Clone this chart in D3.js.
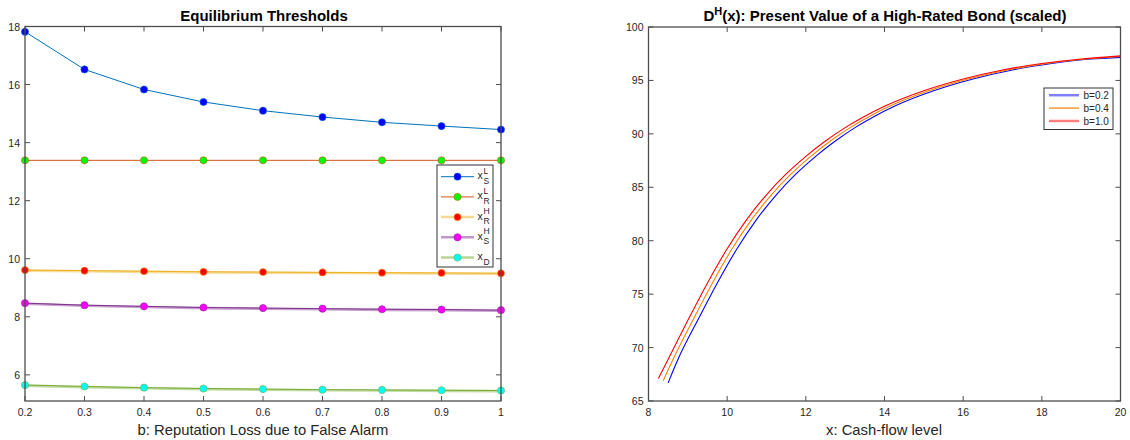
<!DOCTYPE html>
<html><head><meta charset="utf-8">
<script src="https://cdn.jsdelivr.net/npm/d3@7"></script>
<style>
html,body{margin:0;padding:0;background:#fff;}
svg{display:block;font-family:"Liberation Sans",Arial,Helvetica,sans-serif;}
</style></head>
<body><svg id="c" width="1130" height="440"></svg>
<script>
// ---------- Left chart data ----------
const bValues = [0.2, 0.3, 0.4, 0.5, 0.6, 0.7, 0.8, 0.9, 1.0];
const xSL = [17.82, 16.52, 15.83, 15.40, 15.10, 14.88, 14.70, 14.57, 14.45];
const xRL = [13.39, 13.39, 13.39, 13.39, 13.39, 13.39, 13.39, 13.39, 13.39];
const xRH = [9.61, 9.59, 9.57, 9.55, 9.54, 9.53, 9.52, 9.51, 9.50];
const xSH = [8.47, 8.40, 8.36, 8.32, 8.30, 8.28, 8.26, 8.25, 8.23];
const xD  = [5.65, 5.60, 5.56, 5.53, 5.51, 5.49, 5.48, 5.47, 5.46];
const leftXTicks = [0.2, 0.3, 0.4, 0.5, 0.6, 0.7, 0.8, 0.9, 1];
const leftYTicks = [6, 8, 10, 12, 14, 16, 18];

// ---------- Right chart data ----------
const cashRed  = [8.25, 8.5, 9, 9.5, 10, 10.5, 11, 11.5, 12, 12.5, 13, 13.5, 14, 15, 16, 17, 18, 19, 20];
const dRed     = [67.1, 68.9, 72.55, 76.05, 79.25, 82.0, 84.3, 86.25, 87.9, 89.33, 90.58, 91.65, 92.58, 94.03, 95.13, 95.98, 96.58, 97.0, 97.3];
const cashOrg  = [8.375, 8.625, 9.125, 9.625, 10.125, 10.625, 11.125, 11.625, 12.125, 12.625, 13.125, 13.625, 14.125, 15.125, 16.125, 17.125, 18.125, 19.125, 20];
const dOrg     = [66.9, 68.9, 72.55, 76.05, 79.25, 82.0, 84.3, 86.25, 87.9, 89.33, 90.58, 91.65, 92.58, 94.03, 95.13, 95.98, 96.58, 97.0, 97.24];
const cashBlue = [8.5, 8.75, 9.25, 9.75, 10.25, 10.75, 11.25, 11.75, 12.25, 12.75, 13.25, 13.75, 14.25, 15.25, 16.25, 17.25, 18.25, 19.25, 20];
const dBlue    = [66.7, 68.9, 72.55, 76.05, 79.25, 82.0, 84.3, 86.25, 87.9, 89.33, 90.58, 91.65, 92.58, 94.03, 95.13, 95.98, 96.58, 97.0, 97.16];
const rightXTicks = [8, 10, 12, 14, 16, 18, 20];
const rightYTicks = [65, 70, 75, 80, 85, 90, 95, 100];

const svg = d3.select("#c");
const axisCol = "#4d4d4d", textCol = "#262626";

function frame(g, x, y, xTicks, yTicks, xFmt, yFmt) {
  const [x0, x1] = x.range(), [y0, y1] = y.range();
  const tl = 5;
  xTicks.forEach(t => {
    const px = x(t);
    g.append("line").attr("x1", px).attr("x2", px).attr("y1", y0).attr("y2", y0 - tl).attr("stroke", axisCol);
    g.append("line").attr("x1", px).attr("x2", px).attr("y1", y1).attr("y2", y1 + tl).attr("stroke", axisCol);
    g.append("text").attr("x", px).attr("y", y0 + 15).attr("text-anchor", "middle")
      .attr("font-size", 10.5).attr("fill", textCol).text(xFmt(t));
  });
  yTicks.forEach(t => {
    const py = y(t);
    g.append("line").attr("x1", x0).attr("x2", x0 + tl).attr("y1", py).attr("y2", py).attr("stroke", axisCol);
    g.append("line").attr("x1", x1).attr("x2", x1 - tl).attr("y1", py).attr("y2", py).attr("stroke", axisCol);
    g.append("text").attr("x", x0 - 5).attr("y", py + 4).attr("text-anchor", "end")
      .attr("font-size", 10.5).attr("fill", textCol).text(yFmt(t));
  });
  g.append("rect").attr("x", x0).attr("y", y1).attr("width", x1 - x0).attr("height", y0 - y1)
    .attr("fill", "none").attr("stroke", axisCol).attr("stroke-width", 1.3);
}

// ================= LEFT =================
const xL = d3.scaleLinear().domain([0.2, 1]).range([25, 501]);
const yL = d3.scaleLinear().domain([5.1, 18]).range([401, 26.5]);
const gL = svg.append("g");

const seriesL = [
  {v: xSL, line: "#0072BD", face: "#0000FF", halo: false, sup: "L", sub: "S"},
  {v: xRL, line: "#D95319", face: "#00FF00", halo: false, sup: "L", sub: "R"},
  {v: xRH, line: "#EDB120", face: "#FF0000", halo: true,  sup: "H", sub: "R"},
  {v: xSH, line: "#7E2F8E", face: "#FF00FF", halo: true,  sup: "H", sub: "S"},
  {v: xD,  line: "#77AC30", face: "#00FFFF", halo: true,  sup: "",  sub: "D"}
];
const lineGen = d3.line().x((d, i) => xL(bValues[i])).y(d => yL(d));
seriesL.forEach(s => {
  if (s.halo) gL.append("path").attr("d", lineGen(s.v)).attr("fill", "none")
      .attr("stroke", s.line).attr("stroke-opacity", 0.45).attr("stroke-width", 2.6).attr("transform", "translate(0,0.6)");
  gL.append("path").attr("d", lineGen(s.v)).attr("fill", "none").attr("stroke", s.line).attr("stroke-width", 1);
  gL.selectAll(null).data(s.v).enter().append("circle")
    .attr("cx", (d, i) => xL(bValues[i])).attr("cy", d => yL(d)).attr("r", 3.6)
    .attr("fill", s.face).attr("stroke", s.line).attr("stroke-width", 0.6);
});
frame(gL, xL, yL, leftXTicks, leftYTicks, d => d === 1 ? "1" : d3.format(".1f")(d), d => d);
gL.append("text").attr("x", 264).attr("y", 21).attr("text-anchor", "middle")
  .attr("font-size", 15).attr("font-weight", "bold").attr("fill", "#000").text("Equilibrium Thresholds");
gL.append("text").attr("x", 263).attr("y", 435).attr("text-anchor", "middle")
  .attr("font-size", 14.8).attr("fill", textCol).text("b: Reputation Loss due to False Alarm");

// legend left
const lg = gL.append("g");
lg.append("rect").attr("x", 437).attr("y", 165).attr("width", 56).attr("height", 102)
  .attr("fill", "#fff").attr("stroke", "#333").attr("stroke-width", 1);
seriesL.forEach((s, i) => {
  const cy = 176.7 + i * 20.2;
  if (s.halo) lg.append("line").attr("x1", 441).attr("x2", 474).attr("y1", cy).attr("y2", cy)
      .attr("stroke", s.line).attr("stroke-opacity", 0.5).attr("stroke-width", 2.5);
  else lg.append("line").attr("x1", 441).attr("x2", 474).attr("y1", cy).attr("y2", cy)
      .attr("stroke", s.line).attr("stroke-width", 1);
  lg.append("circle").attr("cx", 457.5).attr("cy", cy).attr("r", 3.6)
    .attr("fill", s.face).attr("stroke", s.line).attr("stroke-width", 0.6);
  lg.append("text").attr("x", 477.5).attr("y", cy + 2.5).attr("font-size", 10.5).attr("fill", textCol).text("x");
  if (s.sup) lg.append("text").attr("x", 483.5).attr("y", cy - 3).attr("font-size", 8.5).attr("fill", textCol).text(s.sup);
  lg.append("text").attr("x", 483.5).attr("y", cy + 7).attr("font-size", 8.5).attr("fill", textCol).text(s.sub);
});

// ================= RIGHT =================
const xR = d3.scaleLinear().domain([8, 20]).range([648.5, 1120.5]);
const yR = d3.scaleLinear().domain([65, 100]).range([401, 27]);
const gR = svg.append("g");
const seriesR = [
  {xs: cashBlue, v: dBlue, col: "#0000FF", leg: "#7f7fff", lw: 2.5, name: "b=0.2"},
  {xs: cashOrg,  v: dOrg,  col: "#FF8000", leg: "#FF8000", lw: 1.2, name: "b=0.4"},
  {xs: cashRed,  v: dRed,  col: "#FF0000", leg: "#ff7f7f", lw: 2.5, name: "b=1.0"}
];
seriesR.forEach(s => {
  const lr = d3.line().curve(d3.curveMonotoneX).x((d, i) => xR(s.xs[i])).y(d => yR(d));
  gR.append("path").attr("d", lr(s.v)).attr("fill", "none").attr("stroke", s.col).attr("stroke-width", 1.1);
});
frame(gR, xR, yR, rightXTicks, rightYTicks, d => d, d => d);
const tt = gR.append("text").attr("x", 885).attr("y", 21).attr("text-anchor", "middle")
  .attr("font-size", 15).attr("font-weight", "bold").attr("fill", "#000");
tt.append("tspan").text("D");
tt.append("tspan").attr("dy", -6).attr("font-size", 11).text("H");
tt.append("tspan").attr("dy", 6).text("(x): Present Value of a High-Rated Bond (scaled)");
gR.append("text").attr("x", 884).attr("y", 435).attr("text-anchor", "middle")
  .attr("font-size", 14.8).attr("fill", textCol).text("x: Cash-flow level");

const lgR = gR.append("g");
lgR.append("rect").attr("x", 1044).attr("y", 88).attr("width", 69).attr("height", 41.5)
  .attr("fill", "#fff").attr("stroke", "#333").attr("stroke-width", 1);
seriesR.forEach((s, i) => {
  const cy = 95.2 + i * 12.9;
  lgR.append("line").attr("x1", 1049).attr("x2", 1079).attr("y1", cy).attr("y2", cy)
    .attr("stroke", s.leg).attr("stroke-width", s.lw);
  lgR.append("text").attr("x", 1083.5).attr("y", cy + 3.5).attr("font-size", 10).attr("fill", textCol).text(s.name);
});
</script></body></html>
